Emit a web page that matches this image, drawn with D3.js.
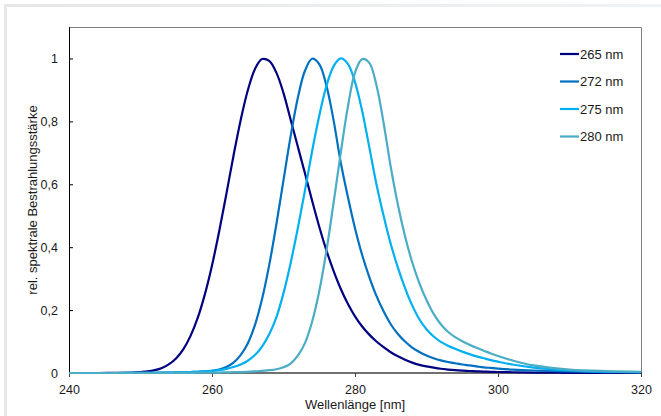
<!DOCTYPE html>
<html>
<head>
<meta charset="utf-8">
<script src="https://cdn.jsdelivr.net/npm/d3@7"></script>
<style>
  body { margin: 0; background: #ffffff; }
  text { font-family: "Liberation Sans", Arial, sans-serif; fill: #1a1a1a; }
</style>
</head>
<body>
<div id="chart"></div>
<script>
// Wavelength grid (nm) shared by all series.
const wavelengths = [240, 244, 246, 248, 249,
  250, 251, 252, 253, 254, 255, 256, 257, 258, 259,
  260, 261, 262, 263, 264, 265, 266, 267, 268, 269,
  270, 271, 272, 273, 274, 275, 276, 277, 278, 279,
  280, 281, 282, 283, 284, 285, 286, 287, 288, 289,
  290, 291, 292, 293, 294, 295, 296, 297, 298, 299,
  300, 302, 305, 310, 315, 320];

// Relative spectral irradiance.
const s265 = [0, 0, 0.0002, 0.0008, 0.0015,
  0.003, 0.005, 0.009, 0.016, 0.028, 0.047, 0.076, 0.118, 0.175, 0.25,
  0.342, 0.45, 0.568, 0.69, 0.803, 0.898, 0.966, 0.998, 0.992, 0.955,
  0.89, 0.805, 0.72, 0.635, 0.548, 0.465, 0.39, 0.325, 0.268, 0.22,
  0.18, 0.148, 0.122, 0.1, 0.082, 0.066, 0.053, 0.042, 0.033, 0.026,
  0.021, 0.017, 0.0135, 0.011, 0.009, 0.0075, 0.0063, 0.0053, 0.0045, 0.0038,
  0.0032, 0.0024, 0.0015, 0.0007, 0.0003, 0.0002];

const s272 = [0, 0, 0, 0.0002, 0.0003,
  0.0004, 0.0006, 0.0008, 0.001, 0.0013, 0.0017, 0.0023, 0.003, 0.004, 0.005,
  0.007, 0.011, 0.019, 0.033, 0.057, 0.094, 0.152, 0.235, 0.343, 0.472,
  0.613, 0.753, 0.874, 0.961, 0.999, 0.982, 0.914, 0.804, 0.67, 0.56,
  0.46, 0.375, 0.305, 0.245, 0.196, 0.155, 0.124, 0.1, 0.081, 0.067,
  0.056, 0.047, 0.04, 0.035, 0.031, 0.027, 0.024, 0.021, 0.018, 0.016,
  0.014, 0.011, 0.008, 0.005, 0.003, 0.002];

const s275 = [0, 0, 0, 0.0002, 0.0003,
  0.0004, 0.0005, 0.0007, 0.0009, 0.0012, 0.0016, 0.002, 0.003, 0.004, 0.005,
  0.007, 0.009, 0.013, 0.019, 0.027, 0.039, 0.057, 0.084, 0.123, 0.177,
  0.254, 0.35, 0.46, 0.58, 0.705, 0.818, 0.912, 0.975, 1.0, 0.983,
  0.925, 0.833, 0.718, 0.6, 0.5, 0.41, 0.335, 0.27, 0.215, 0.171,
  0.139, 0.116, 0.099, 0.087, 0.077, 0.068, 0.06, 0.053, 0.047, 0.041,
  0.036, 0.027, 0.017, 0.008, 0.004, 0.003];

const s280 = [0, 0, 0, 0, 0,
  0.0001, 0.0001, 0.0002, 0.0002, 0.0003, 0.0004, 0.0005, 0.0006, 0.0008, 0.001,
  0.0012, 0.0015, 0.002, 0.0025, 0.003, 0.004, 0.005, 0.007, 0.009, 0.012,
  0.018, 0.03, 0.055, 0.095, 0.163, 0.26, 0.388, 0.54, 0.699, 0.846,
  0.955, 0.998, 0.986, 0.915, 0.795, 0.655, 0.535, 0.435, 0.352, 0.286,
  0.232, 0.188, 0.155, 0.131, 0.114, 0.101, 0.09, 0.08, 0.071, 0.062,
  0.054, 0.04, 0.024, 0.011, 0.006, 0.004];

const seriesNames = ["265 nm", "272 nm", "275 nm", "280 nm"];
const seriesColors = ["#000080", "#0070c0", "#00b0f0", "#4bacc6"];
const seriesValues = [s265, s272, s275, s280];

const xTicks = [240, 260, 280, 300, 320];
const yTicks = [0, 0.2, 0.4, 0.6, 0.8, 1];

// Size of the page and the plot area.
const W = 661, H = 416;
const plot = {left: 69, right: 641, top: 27, bottom: 373};

const svg = d3.select("#chart")
  .append("svg")
    .attr("width", W)
    .attr("height", H);

// Light frame of the surrounding container.
const grad = svg.append("defs").append("linearGradient")
  .attr("id", "frameGrad")
  .attr("x1", "0").attr("x2", "1").attr("y1", "0").attr("y2", "0");
grad.append("stop").attr("offset", "0").attr("stop-color", "#e6e6e6");
grad.append("stop").attr("offset", "1").attr("stop-color", "#f1f4f7");

svg.append("rect")
  .attr("x", 5.5).attr("y", 5.5)
  .attr("width", W + 40).attr("height", H + 40)
  .attr("fill", "none")
  .attr("stroke", "url(#frameGrad)")
  .attr("stroke-width", 3);

const x = d3.scaleLinear().domain([240, 320]).range([plot.left, plot.right]);
const y = d3.scaleLinear().domain([0, 1.1]).range([plot.bottom, plot.top]);

// Plot area border (top and right).
svg.append("path")
  .attr("d", `M${plot.left},${plot.top + 0.5}H${plot.right + 0.5}V${plot.bottom}`)
  .attr("fill", "none")
  .attr("stroke", "#808080")
  .attr("stroke-width", 1);

// X axis.
svg.append("g")
  .attr("transform", "translate(0," + plot.bottom + ")")
  .call(d3.axisBottom(x).tickValues(xTicks).tickSize(4).tickPadding(8))
  .call(g => g.select(".domain").remove())
  .call(g => g.selectAll("line").attr("stroke", "#404040"))
  .call(g => g.selectAll("text")
    .style("font-family", "'Liberation Sans', Arial, sans-serif")
    .style("font-size", "12.5px")
    .attr("fill", "#1a1a1a"));

svg.append("line")
  .attr("x1", plot.left).attr("x2", plot.right + 1)
  .attr("y1", plot.bottom).attr("y2", plot.bottom)
  .attr("stroke", "#404040")
  .attr("stroke-width", 1.6);

// Y axis, ticks pointing inwards.
svg.append("g")
  .attr("transform", "translate(" + plot.left + ",0)")
  .call(d3.axisLeft(y).tickValues(yTicks).tickSize(-4).tickPadding(11)
    .tickFormat(d => String(d).replace(".", ",")))
  .call(g => g.select(".domain").remove())
  .call(g => g.selectAll("line").attr("stroke", "#000"))
  .call(g => g.selectAll("text")
    .style("font-family", "'Liberation Sans', Arial, sans-serif")
    .style("font-size", "12.5px")
    .attr("fill", "#1a1a1a"));

svg.append("line")
  .attr("x1", plot.left + 0.5).attr("x2", plot.left + 0.5)
  .attr("y1", plot.top).attr("y2", plot.bottom + 1)
  .attr("stroke", "#000")
  .attr("stroke-width", 1);

// The curves.
const line = d3.line()
  .x(d => x(d[0]))
  .y(d => y(d[1]))
  .curve(d3.curveCatmullRom.alpha(0.5));

seriesValues.forEach((vals, i) => {
  svg.append("path")
    .datum(wavelengths.map((w, j) => [w, vals[j]]))
    .attr("d", line)
    .attr("fill", "none")
    .attr("stroke", seriesColors[i])
    .attr("stroke-width", 2.2)
    .attr("stroke-linejoin", "round");
});

// Legend.
const legend = svg.append("g");
seriesNames.forEach((name, i) => {
  const cy = 54 + i * 27.5;
  legend.append("line")
    .attr("x1", 560).attr("x2", 579)
    .attr("y1", cy).attr("y2", cy)
    .attr("stroke", seriesColors[i])
    .attr("stroke-width", 2.2);
  legend.append("text")
    .attr("x", 580).attr("y", cy + 4.5)
    .style("font-size", "13px")
    .text(name);
});

// Axis titles.
svg.append("text")
  .attr("x", (plot.left + plot.right) / 2)
  .attr("y", 409)
  .attr("text-anchor", "middle")
  .style("font-size", "13px")
  .text("Wellenlänge [nm]");

svg.append("text")
  .attr("transform", "translate(37," + (plot.top + plot.bottom) / 2 + ") rotate(-90)")
  .attr("text-anchor", "middle")
  .style("font-size", "13px")
  .text("rel. spektrale Bestrahlungsstärke");
</script>
</body>
</html>
